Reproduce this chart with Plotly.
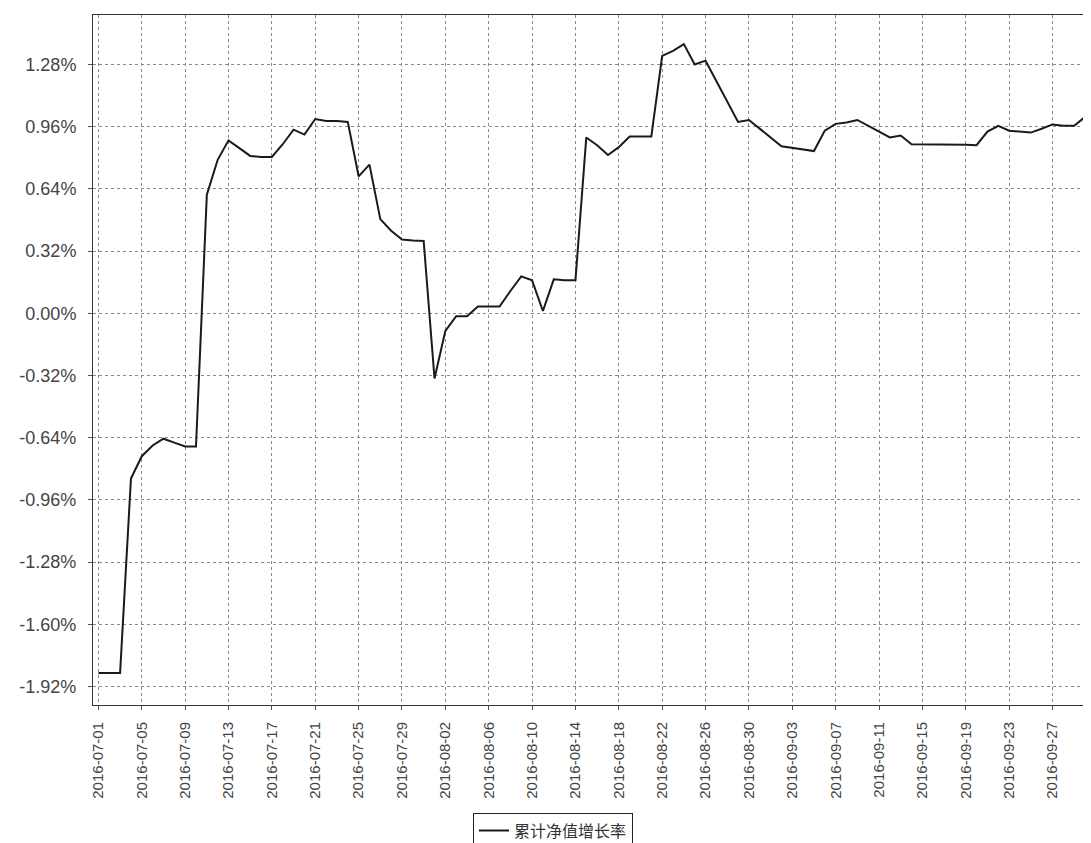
import plotly.graph_objects as go

dates = [
    "2016-07-01", "2016-07-02", "2016-07-03", "2016-07-04", "2016-07-05", "2016-07-06", "2016-07-07", "2016-07-08", "2016-07-09", "2016-07-10",
    "2016-07-11", "2016-07-12", "2016-07-13", "2016-07-14", "2016-07-15", "2016-07-16", "2016-07-17", "2016-07-18", "2016-07-19", "2016-07-20",
    "2016-07-21", "2016-07-22", "2016-07-23", "2016-07-24", "2016-07-25", "2016-07-26", "2016-07-27", "2016-07-28", "2016-07-29", "2016-07-30",
    "2016-07-31", "2016-08-01", "2016-08-02", "2016-08-03", "2016-08-04", "2016-08-05", "2016-08-06", "2016-08-07", "2016-08-08", "2016-08-09",
    "2016-08-10", "2016-08-11", "2016-08-12", "2016-08-13", "2016-08-14", "2016-08-15", "2016-08-16", "2016-08-17", "2016-08-18", "2016-08-19",
    "2016-08-20", "2016-08-21", "2016-08-22", "2016-08-23", "2016-08-24", "2016-08-25", "2016-08-26", "2016-08-29", "2016-08-30", "2016-08-31",
    "2016-09-01", "2016-09-02", "2016-09-05", "2016-09-06", "2016-09-07", "2016-09-08", "2016-09-09", "2016-09-12", "2016-09-13", "2016-09-14",
    "2016-09-19", "2016-09-20", "2016-09-21", "2016-09-22", "2016-09-23", "2016-09-24", "2016-09-25", "2016-09-26", "2016-09-27", "2016-09-28",
    "2016-09-29", "2016-09-30",
]

growth_pct = [
    -1.85, -1.85, -1.85, -0.85, -0.735, -0.68, -0.645, -0.665, -0.685, -0.685,
    0.61, 0.79, 0.89, 0.85, 0.81, 0.805, 0.805, 0.87, 0.945, 0.92,
    1.00, 0.99, 0.99, 0.985, 0.705, 0.765, 0.485, 0.425, 0.38, 0.375,
    0.372, -0.335, -0.09, -0.015, -0.015, 0.035, 0.035, 0.035, 0.115, 0.19,
    0.17, 0.012, 0.175, 0.17, 0.17, 0.905, 0.865, 0.815, 0.855, 0.91,
    0.91, 0.91, 1.325, 1.35, 1.385, 1.28, 1.30, 0.985, 0.995, 0.95,
    0.905, 0.86, 0.835, 0.94, 0.975, 0.982, 0.995, 0.905, 0.915, 0.87,
    0.868, 0.865, 0.935, 0.965, 0.94, 0.935, 0.93, 0.95, 0.972, 0.965,
    0.965, 1.01,
]

series_name = "累计净值增长率"

x_ticks = [
    "2016-07-01", "2016-07-05", "2016-07-09", "2016-07-13", "2016-07-17", "2016-07-21", "2016-07-25",
    "2016-07-29", "2016-08-02", "2016-08-06", "2016-08-10", "2016-08-14", "2016-08-18", "2016-08-22",
    "2016-08-26", "2016-08-30", "2016-09-03", "2016-09-07", "2016-09-11", "2016-09-15", "2016-09-19",
    "2016-09-23", "2016-09-27",
]
y_ticks = [-1.92, -1.60, -1.28, -0.96, -0.64, -0.32, 0.00, 0.32, 0.64, 0.96, 1.28]
y_tick_text = [f"{v:.2f}%" for v in y_ticks]

fig = go.Figure()
fig.add_trace(go.Scatter(
    x=dates, y=growth_pct, mode="lines", name=series_name,
    line=dict(color="#1a1a1a", width=2),
    showlegend=True,
))

# the page body adds an 8px offset, so the figure is 8px smaller and shifted
fig.update_layout(
    width=1083, height=835,
    margin=dict(l=85, r=6, t=7, b=138, autoexpand=False),
    paper_bgcolor="white", plot_bgcolor="white",
    font=dict(family="Liberation Sans, Arial, sans-serif", color="#444"),
    showlegend=True,
    legend=dict(
        x=0.4637, xanchor="center", y=-0.156, yanchor="top",
        orientation="h",
        bordercolor="#222", borderwidth=1,
        font=dict(family="Noto Sans CJK SC", size=16, color="#333"),
        itemwidth=30,
    ),
)

fig.update_xaxes(
    type="date", automargin=False,
    range=["2016-06-30 12:00", "2016-09-30 00:00"],
    tickvals=x_ticks, ticktext=x_ticks,
    tickangle=-90,
    tickfont=dict(size=15, color="#444"),
    showgrid=True, gridcolor="#8a8a8a", gridwidth=1, griddash="dot",
    showline=True, linecolor="#333", linewidth=1, mirror=True,
    ticks="outside", ticklen=4, tickcolor="#555",
    ticklabelstandoff=6,
    zeroline=False,
)

fig.update_yaxes(
    automargin=False,
    range=[-2.015, 1.535],
    tickvals=y_ticks, ticktext=y_tick_text,
    tickfont=dict(size=18, color="#444"),
    showgrid=True, gridcolor="#8a8a8a", gridwidth=1, griddash="dot",
    showline=True, linecolor="#333", linewidth=1, mirror=True,
    ticks="outside", ticklen=4, tickcolor="#555",
    ticklabelstandoff=8,
    zeroline=False,
)

fig.write_html("out.html")
